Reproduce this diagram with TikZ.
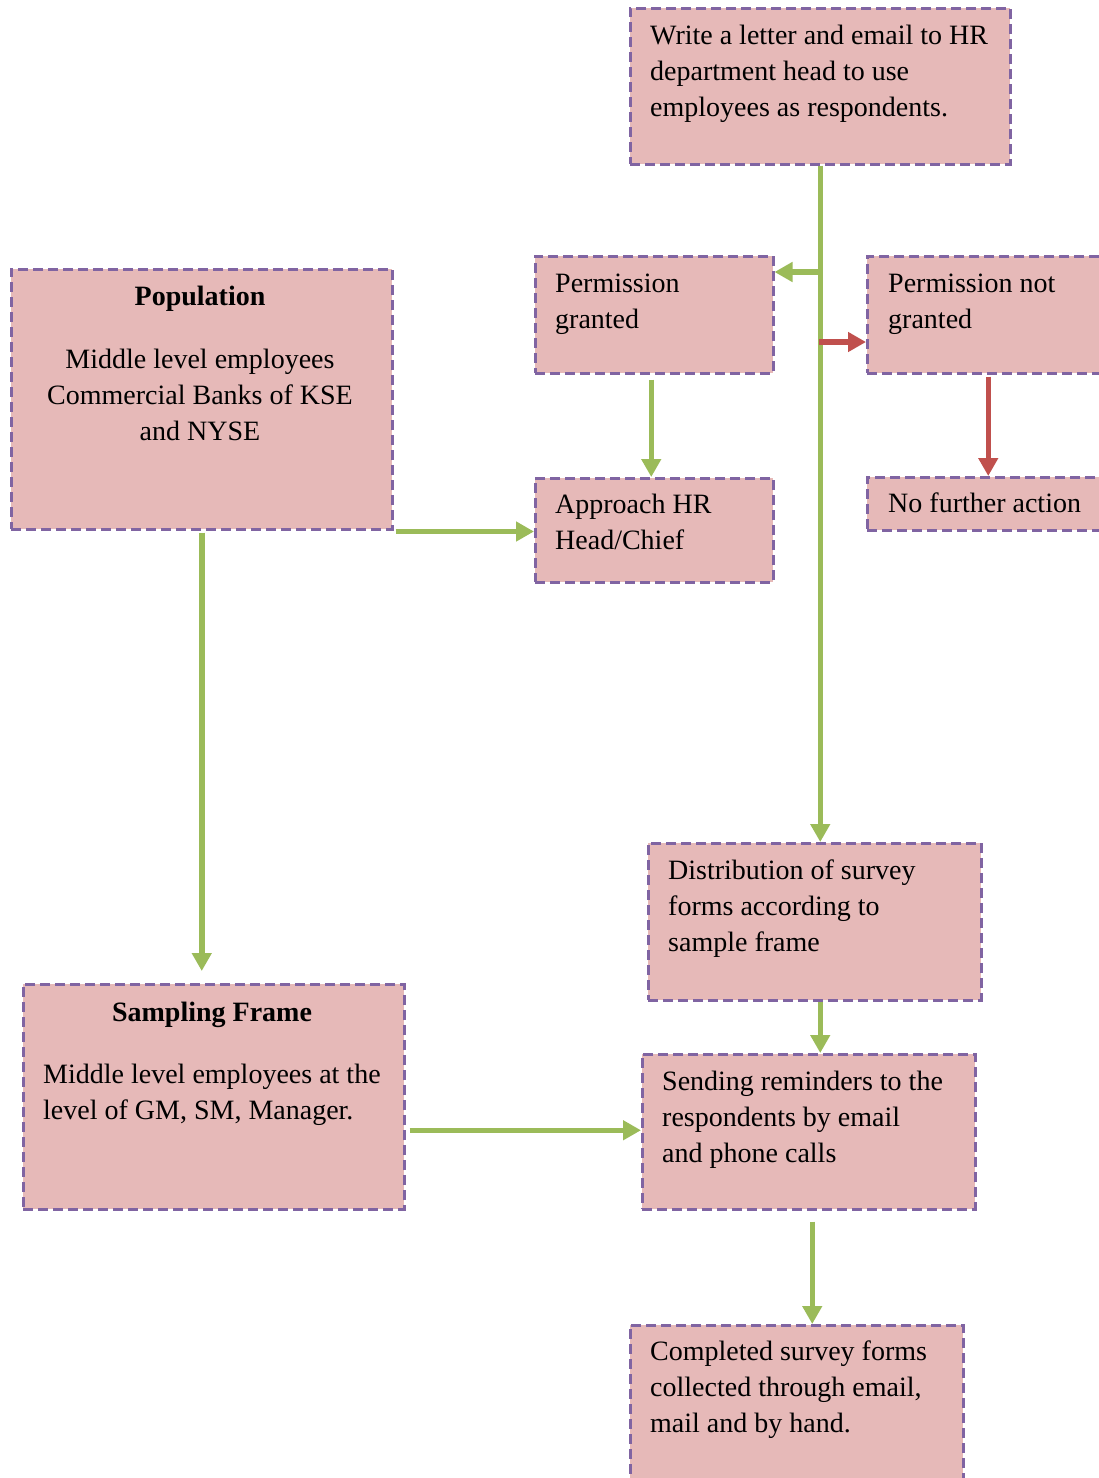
\documentclass[tikz,border=0pt]{standalone}
\usepackage{fontspec}
\setmainfont{Liberation Serif}
\usetikzlibrary{arrows.meta}
\definecolor{boxfill}{HTML}{E6B9B8}
\definecolor{boxline}{HTML}{8064A2}
\definecolor{flowgreen}{HTML}{9BBB59}
\definecolor{flowred}{HTML}{C0504D}
\tikzset{
  box/.style={draw=boxline, fill=boxfill, line width=2.5pt,
    dash pattern=on 10pt off 5pt, inner sep=0pt, anchor=north west},
  txt/.style={inner sep=0pt, font=\fontsize{28}{36}\selectfont},
  ttl/.style={txt, font=\fontsize{28}{36}\selectfont\bfseries},
  go/.style={draw=flowgreen, line width=5.5pt,
    -{Triangle[width=19pt,length=18pt]}},
  stop/.style={go, draw=flowred},
}
\begin{document}
\begin{tikzpicture}[x=1pt,y=-1pt]
\clip (0,0) rectangle (1099,1478);
\fill[white] (0,0) rectangle (1099,1478);

% boxes
\node[box, minimum width=380pt, minimum height=156pt] (letter) at (629,7) {};
\node[box, minimum width=238pt, minimum height=117pt] (pg) at (534,255) {};
\node[box, minimum width=245pt, minimum height=117pt] (png) at (866,255) {};
\node[box, minimum width=238pt, minimum height=104pt] (ah) at (534,477) {};
\node[box, minimum width=245pt, minimum height=53pt] (nfa) at (866,476) {};
\node[box, minimum width=381pt, minimum height=260pt] (pop) at (10,268) {};
\node[box, minimum width=333pt, minimum height=157pt] (dist) at (647,842) {};
\node[box, minimum width=381pt, minimum height=225pt] (samp) at (22,983) {};
\node[box, minimum width=333pt, minimum height=155pt] (send) at (641,1053) {};
\node[box, minimum width=333pt, minimum height=170pt] (comp) at (629,1324) {};

% texts
\node[txt, anchor=north west, align=left] (letter-t) at ([shift={(21pt,-11.8pt)}]letter.north west)
  {\strut Write a letter and email to HR\\department head to use\\employees as respondents.};
\node[txt, anchor=north west, align=left] (pg-t) at ([shift={(21pt,-11.8pt)}]pg.north west)
  {\strut Permission\\granted};
\node[txt, anchor=north west, align=left] (png-t) at ([shift={(22pt,-11.8pt)}]png.north west)
  {\strut Permission not\\granted};
\node[txt, anchor=north west, align=left] (ah-t) at ([shift={(21pt,-10.8pt)}]ah.north west)
  {\strut Approach HR\\Head/Chief};
\node[txt, anchor=north west, align=left] (nfa-t) at ([shift={(22pt,-10.8pt)}]nfa.north west)
  {\strut No further action};
\node[ttl, anchor=north, align=center] (pop-h) at (200,279.8) {\strut Population};
\node[txt, anchor=north, align=center] (pop-t) at (200,342.8)
  {\strut Middle level employees\\Commercial Banks of KSE\\and NYSE};
\node[txt, anchor=north west, align=left] (dist-t) at ([shift={(21pt,-11.8pt)}]dist.north west)
  {\strut Distribution of survey\\forms according to\\sample frame};
\node[ttl, anchor=north, align=center] (samp-h) at (212,995.8) {\strut Sampling Frame};
\node[txt, anchor=north west, align=left] (samp-t) at ([shift={(21pt,-74.8pt)}]samp.north west)
  {\strut Middle level employees at the\\level of GM, SM, Manager.};
\node[txt, anchor=north west, align=left] (send-t) at ([shift={(21pt,-11.8pt)}]send.north west)
  {\strut Sending reminders to the\\respondents by email\\and phone calls};
\node[txt, anchor=north west, align=left] (comp-t) at ([shift={(21pt,-10.8pt)}]comp.north west)
  {\strut Completed survey forms\\collected through email,\\mail and by hand.};

% connectors
\coordinate (j1) at (819,272);
\coordinate (j2) at (819,342);
\draw[go] (letter.south) -- (letter.south |- dist.north);
\draw[go] ([xshift=2pt]j1) -- (j1 -| pg.east);
\draw[stop] (j2) -- (j2 -| png.west);
\draw[go] ([xshift=-3pt,yshift=-5pt]pg.south) -- ([xshift=-3pt]pg.south |- ah.north);
\draw[stop] ([xshift=-1.5pt,yshift=-2pt]png.south) -- ([xshift=-1.5pt]png.south |- nfa.north);
\draw[go] ([xshift=2pt,yshift=-1pt]pop.south east) -- ([yshift=-1pt]pop.south east -| ah.west);
\draw[go] ([yshift=-2pt]pop.south) -- ([yshift=12pt]pop.south |- samp.north);
\draw[go] (letter.south |- dist.south) -- (letter.south |- send.north);
\draw[go] ([xshift=4pt,yshift=1.5pt]samp.east |- send.west) -- ([yshift=1.5pt]send.west);
\draw[go] ([xshift=3.5pt,yshift=-11pt]send.south) -- ([xshift=3.5pt]send.south |- comp.north);
\end{tikzpicture}
\end{document}
